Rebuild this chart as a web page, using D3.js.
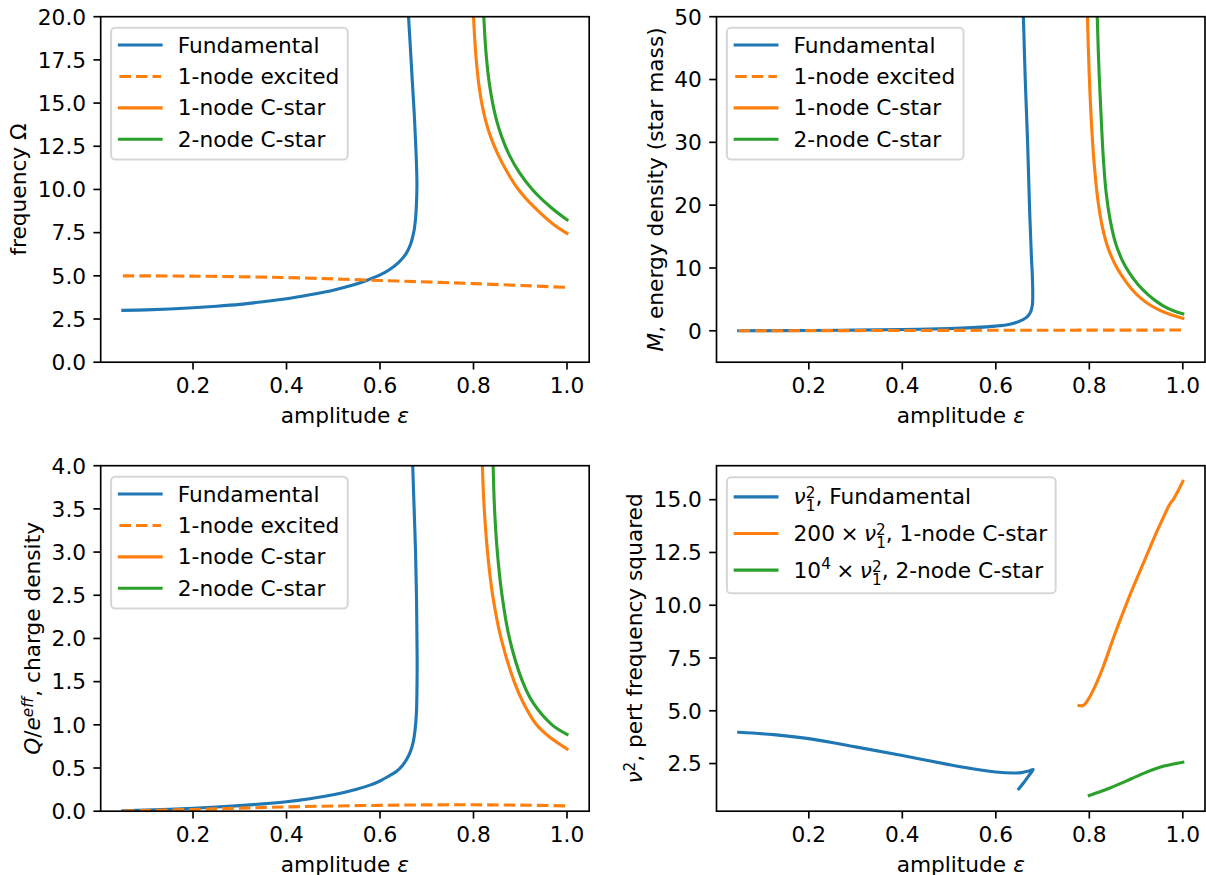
<!DOCTYPE html>
<html><head><meta charset="utf-8">
<script src="https://cdn.jsdelivr.net/npm/d3@7"></script>
<style>
body{margin:0;background:#fff}
svg{display:block}
text{font-family:"DejaVu Sans",sans-serif;fill:#000}
</style>
</head><body>
<svg id="chart" width="1206" height="875"></svg>
<script>
// ---------------- data ----------------
const xTicks = [0.2, 0.4, 0.6, 0.8, 1.0];
const omegaTicks = [0, 2.5, 5, 7.5, 10, 12.5, 15, 17.5, 20];
const massTicks = [0, 10, 20, 30, 40, 50];
const chargeTicks = [0, 0.5, 1, 1.5, 2, 2.5, 3, 3.5, 4];
const nuTicks = [2.5, 5, 7.5, 10, 12.5, 15];

const seriesNames = ["Fundamental", "1-node excited", "1-node C-star", "2-node C-star"];

// frequency Omega vs amplitude  [amplitude, value]
const omegaFundamental = [[0.05,3.00],[0.10,3.03],[0.15,3.08],[0.20,3.15],[0.25,3.24],[0.30,3.35],[0.35,3.50],[0.40,3.67],[0.45,3.90],[0.50,4.17],[0.54,4.45],[0.57,4.72],[0.60,5.05],[0.62,5.35],[0.64,5.78],[0.655,6.25],[0.665,6.80],[0.672,7.50],[0.676,8.30],[0.678,9.20],[0.679,10.2],[0.678,11.5],[0.676,12.8],[0.673,14.5],[0.669,16.3],[0.665,18.2],[0.661,20.0],[0.659,21.0]];
const omegaExcited = [[0.05,5.00],[0.2,4.98],[0.4,4.90],[0.6,4.73],[0.8,4.55],[1.0,4.33]];
const omegaCstar1 = [[0.7985,21],[0.800,20],[0.802,19],[0.8044,18],[0.8076,17],[0.8118,16],[0.8176,15],[0.8258,14],[0.8373,13],[0.8528,12],[0.8723,11],[0.8961,10],[0.929,9],[0.970,8],[1.0,7.46]];
const omegaCstar2 = [[0.8206,21],[0.822,20],[0.824,19],[0.8265,18],[0.830,17],[0.8346,16],[0.841,15],[0.8494,14],[0.861,13],[0.8765,12],[0.8975,11],[0.9258,10],[0.964,9],[1.0,8.24]];

// mass M vs amplitude
const massFundamental = [[0.05,0.0],[0.2,0.05],[0.3,0.1],[0.4,0.2],[0.5,0.35],[0.55,0.5],[0.6,0.75],[0.63,1.05],[0.65,1.5],[0.665,2.1],[0.673,2.8],[0.678,4.0],[0.679,6.0],[0.678,9.0],[0.676,12],[0.672,20],[0.668,30],[0.663,40],[0.659,50],[0.657,55]];
const massExcited = [[0.05,0.0],[0.2,0.02],[0.4,0.05],[0.6,0.08],[0.8,0.1],[1.0,0.12]];
const massCstar1 = [[0.794,56],[0.796,50],[0.800,40.5],[0.805,32.5],[0.810,27],[0.818,21],[0.828,16.5],[0.840,13.2],[0.855,10.6],[0.870,8.7],[0.890,6.7],[0.910,5.2],[0.930,4.1],[0.950,3.3],[0.975,2.55],[1.0,2.0]];
const massCstar2 = [[0.8155,56],[0.817,50],[0.821,41],[0.826,33],[0.830,27.5],[0.836,22],[0.845,17.5],[0.856,14],[0.870,11.3],[0.885,9.3],[0.905,7.3],[0.925,5.8],[0.945,4.6],[0.960,3.9],[0.980,3.2],[1.0,2.7]];

// charge Q vs amplitude
const chargeFundamental = [[0.05,0.005],[0.10,0.012],[0.15,0.022],[0.20,0.034],[0.25,0.048],[0.30,0.065],[0.35,0.085],[0.40,0.11],[0.45,0.145],[0.50,0.19],[0.55,0.255],[0.58,0.305],[0.60,0.35],[0.62,0.41],[0.635,0.46],[0.648,0.53],[0.658,0.61],[0.665,0.69],[0.671,0.80],[0.675,0.94],[0.678,1.15],[0.679,1.4],[0.6795,1.7],[0.679,2.0],[0.678,2.5],[0.676,3.0],[0.673,3.5],[0.670,4.0],[0.669,4.3]];
const chargeExcited = [[0.05,0.003],[0.1,0.008],[0.2,0.02],[0.3,0.035],[0.4,0.05],[0.5,0.06],[0.6,0.068],[0.7,0.073],[0.8,0.074],[0.9,0.07],[1.0,0.062]];
const chargeCstar1 = [[0.818,4.3],[0.819,4.0],[0.823,3.5],[0.830,3.0],[0.841,2.5],[0.859,2.0],[0.887,1.5],[0.907,1.25],[0.935,1.0],[0.960,0.87],[1.0,0.72]];
const chargeCstar2 = [[0.841,4.3],[0.842,4.0],[0.845,3.5],[0.851,3.0],[0.861,2.5],[0.877,2.0],[0.905,1.5],[0.928,1.25],[0.968,1.0],[1.0,0.89]];

// perturbation frequency squared
const nuFundamental = [[0.05,3.98],[0.125,3.87],[0.2,3.68],[0.3,3.29],[0.4,2.88],[0.5,2.45],[0.546,2.27],[0.6,2.10],[0.637,2.05],[0.655,2.07],[0.668,2.13],[0.680,2.22],[0.672,1.97],[0.662,1.66],[0.649,1.30]];
const nuCstar1x200 = [[0.778,5.25],[0.786,5.24],[0.792,5.35],[0.80,5.62],[0.81,6.05],[0.82,6.55],[0.83,7.1],[0.84,7.72],[0.85,8.35],[0.86,8.95],[0.87,9.53],[0.88,10.1],[0.89,10.65],[0.90,11.18],[0.91,11.7],[0.92,12.22],[0.93,12.74],[0.94,13.26],[0.95,13.76],[0.96,14.24],[0.97,14.7],[0.975,14.88],[0.98,15.02],[0.99,15.42],[1.0,15.87]];
const nuCstar2x1e4 = [[0.80,0.99],[0.82,1.14],[0.84,1.31],[0.86,1.49],[0.88,1.68],[0.90,1.88],[0.92,2.07],[0.94,2.24],[0.96,2.38],[0.98,2.48],[1.0,2.56]];

// ---------------- drawing ----------------
const FS = 21.7;
const C = {blue:"#1f77b4", orange:"#ff7f0e", green:"#2ca02c"};
const LW = 3.125, SPW = 1.67, TICK = 7.3, PAD = 7.3;
const AX_W = 488.5, AX_H = 345.5;
const xDomain = [0.0025, 1.0475];
const svg = d3.select("#chart");

function rich(sel, parts){
  let cur = 0;
  parts.forEach(p => {
    const off = p.off || 0;
    const ts = sel.append("tspan").text(p.t);
    if (off !== cur) ts.attr("dy", off - cur);
    cur = off;
    if (p.dx) ts.attr("dx", p.dx);
    if (p.i) ts.attr("font-style", "italic");
    if (p.small) ts.attr("font-size", FS * 0.7);
  });
}
const SW = 0.636 * FS * 0.7; // advance of a small digit
const nu12 = [{t:"ν",i:1},{t:"2",small:1,off:-6},{t:"1",small:1,off:7,dx:-SW}];
const TIMES = "\u2005×\u2005";

const xlabelParts = [{t:"amplitude "},{t:"ε",i:1}];
const fmt1 = d3.format(".1f"), fmt0 = d3.format("d");
const stdStyles = [[C.blue,0],[C.orange,1],[C.orange,0],[C.green,0]];

const panels = [
  {left:100.7, top:16.7, yDomain:[0,20], yTicks:omegaTicks, yFmt:fmt1,
   ylabel:[{t:"frequency Ω"}],
   series:[
     {d:omegaFundamental, c:C.blue},
     {d:omegaExcited, c:C.orange, dash:true},
     {d:omegaCstar1, c:C.orange},
     {d:omegaCstar2, c:C.green}],
   legend:{rows:seriesNames.map(n=>[{t:n}]), styles:stdStyles, boxOff:11, pitch:31.4, rowH:21}},
  {left:716.5, top:16.7, yDomain:[-5,50], yTicks:massTicks, yFmt:fmt0,
   ylabel:[{t:"M",i:1},{t:", energy density (star mass)"}],
   series:[
     {d:massFundamental, c:C.blue},
     {d:massExcited, c:C.orange, dash:true},
     {d:massCstar1, c:C.orange},
     {d:massCstar2, c:C.green}],
   legend:{rows:seriesNames.map(n=>[{t:n}]), styles:stdStyles, boxOff:11, pitch:31.4, rowH:21}},
  {left:100.7, top:465.7, yDomain:[0,4], yTicks:chargeTicks, yFmt:fmt1,
   ylabel:[{t:"Q",i:1},{t:"/"},{t:"e",i:1},{t:"eff",i:1,small:1,off:-7},{t:", charge density"}],
   series:[
     {d:chargeFundamental, c:C.blue},
     {d:chargeExcited, c:C.orange, dash:true},
     {d:chargeCstar1, c:C.orange},
     {d:chargeCstar2, c:C.green}],
   legend:{rows:seriesNames.map(n=>[{t:n}]), styles:stdStyles, boxOff:11, pitch:31.4, rowH:21}},
  {left:716.5, top:465.7, yDomain:[0.243,16.61], yTicks:nuTicks, yFmt:fmt1,
   ylabel:[{t:"ν",i:1},{t:"2",small:1,off:-7},{t:", pert frequency squared"}],
   series:[
     {d:nuFundamental, c:C.blue},
     {d:nuCstar1x200, c:C.orange},
     {d:nuCstar2x1e4, c:C.green}],
   legend:{rows:[
       [...nu12,{t:", Fundamental"}],
       [{t:"200"+TIMES},...nu12,{t:", 1-node C-star"}],
       [{t:"10"},{t:"4",small:1,off:-8.6},{t:TIMES},...nu12,{t:", 2-node C-star"}]],
     styles:[[C.blue,0],[C.orange,0],[C.green,0]], boxOff:11.6, pitch:36.6, rowH:26.2}}
];

panels.forEach((p, idx) => {
  const x = d3.scaleLinear().domain(xDomain).range([p.left, p.left + AX_W]);
  const y = d3.scaleLinear().domain(p.yDomain).range([p.top + AX_H, p.top]);
  const g = svg.append("g");
  const clipId = "clip" + idx;
  svg.append("clipPath").attr("id", clipId).append("rect")
    .attr("x", p.left).attr("y", p.top).attr("width", AX_W).attr("height", AX_H);

  // lines
  const line = d3.line().x(d => x(d[0])).y(d => y(d[1])).curve(d3.curveCatmullRom.alpha(0.5));
  const lg = g.append("g").attr("clip-path", `url(#${clipId})`);
  p.series.forEach(s => {
    lg.append("path").attr("d", line(s.d)).attr("fill", "none")
      .attr("stroke", s.c).attr("stroke-width", LW)
      .attr("stroke-linejoin", "round")
      .attr("stroke-linecap", s.dash ? "butt" : "square")
      .attr("stroke-dasharray", s.dash ? "11.56,5" : null);
  });

  // spines
  g.append("rect").attr("x", p.left).attr("y", p.top).attr("width", AX_W).attr("height", AX_H)
    .attr("fill", "none").attr("stroke", "#000").attr("stroke-width", SPW);

  // x ticks
  const bottom = p.top + AX_H;
  xTicks.forEach(t => {
    g.append("line").attr("x1", x(t)).attr("x2", x(t)).attr("y1", bottom).attr("y2", bottom + TICK)
      .attr("stroke", "#000").attr("stroke-width", SPW);
    g.append("text").attr("x", x(t)).attr("y", bottom + 31).attr("text-anchor", "middle")
      .attr("font-size", FS).text(fmt1(t));
  });
  // y ticks
  let maxW = 0;
  p.yTicks.forEach(t => {
    g.append("line").attr("x1", p.left - TICK).attr("x2", p.left).attr("y1", y(t)).attr("y2", y(t))
      .attr("stroke", "#000").attr("stroke-width", SPW);
    const tx = g.append("text").attr("x", p.left - TICK - PAD).attr("y", y(t) + 7.8)
      .attr("text-anchor", "end").attr("font-size", FS).text(p.yFmt(t));
    maxW = Math.max(maxW, tx.node().getComputedTextLength());
  });

  // x label
  const xl = g.append("text").attr("x", p.left + AX_W / 2).attr("y", bottom + 60.4)
    .attr("text-anchor", "middle").attr("font-size", FS);
  rich(xl, xlabelParts);

  // y label
  const lx = p.left - TICK - PAD - maxW - 8.3 - 3.3;
  const yl = g.append("text").attr("transform", `translate(${lx},${p.top + AX_H / 2}) rotate(-90)`)
    .attr("text-anchor", "middle").attr("font-size", FS);
  rich(yl, p.ylabel);

  // legend
  const L = p.legend;
  const bx = p.left + 10.4, by = p.top + L.boxOff;
  const leg = g.append("g");
  const box = leg.append("rect").attr("x", bx).attr("y", by).attr("rx", 4.2).attr("ry", 4.2)
    .attr("fill", "#fff").attr("fill-opacity", 0.8)
    .attr("stroke", "#cccccc").attr("stroke-opacity", 0.8).attr("stroke-width", 2);
  let maxTW = 0;
  L.rows.forEach((parts, i) => {
    const cy = by + 8.33 + L.rowH * 0.43 + i * L.pitch;
    const st = L.styles[i];
    leg.append("line").attr("x1", bx + 8.33).attr("x2", bx + 50).attr("y1", cy).attr("y2", cy)
      .attr("stroke", st[0]).attr("stroke-width", LW)
      .attr("stroke-linecap", st[1] ? "butt" : "square")
      .attr("stroke-dasharray", st[1] ? "11.56,5" : null);
    const tx = leg.append("text").attr("x", bx + 66.67).attr("y", cy + 7.6).attr("font-size", FS);
    rich(tx, parts);
    const bb = tx.node().getBBox();
    maxTW = Math.max(maxTW, bb.x + bb.width - (bx + 66.67));
  });
  const nR = L.rows.length;
  box.attr("width", 66.67 + maxTW + 8.33)
     .attr("height", 16.67 + nR * L.rowH + (nR - 1) * (L.pitch - L.rowH));
});
</script>
</body></html>
